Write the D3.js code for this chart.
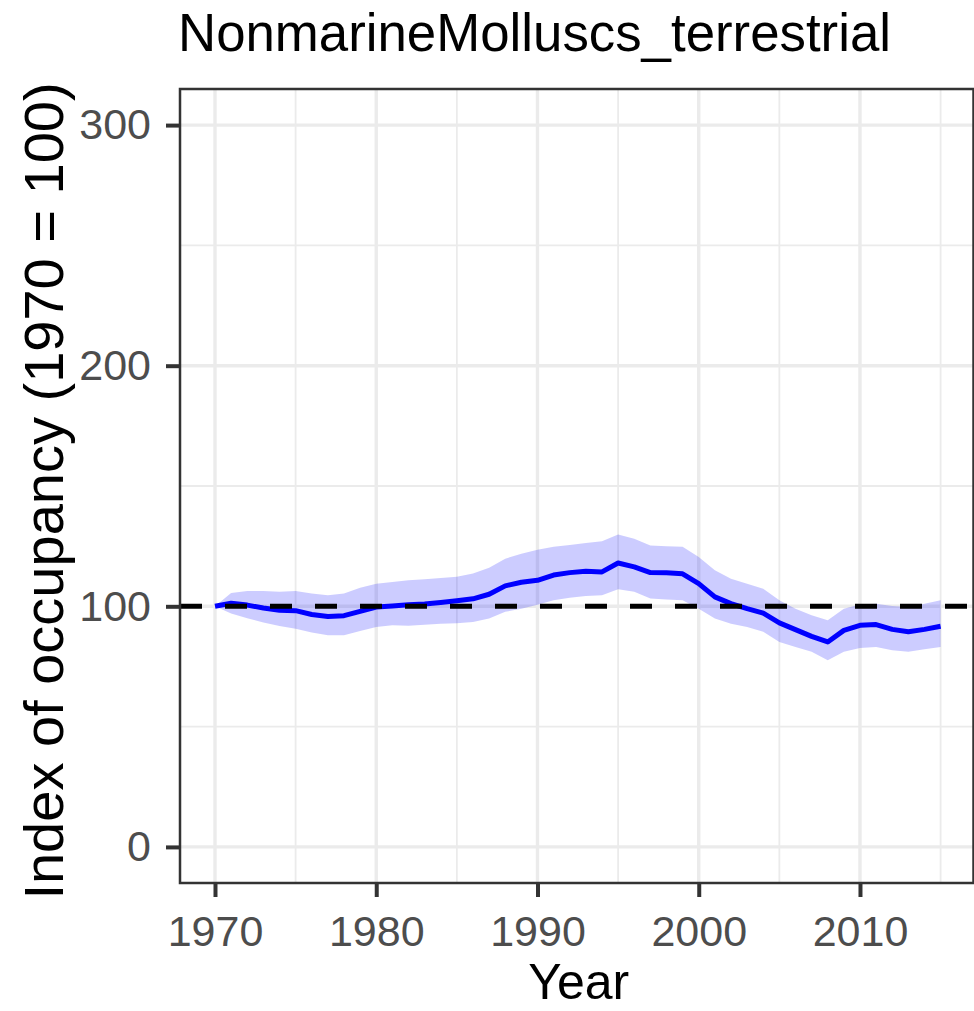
<!DOCTYPE html>
<html>
<head>
<meta charset="utf-8">
<script src="https://cdn.jsdelivr.net/npm/d3@7"></script>
<style>
  html, body { margin: 0; padding: 0; background: #ffffff; }
  svg { display: block; font-family: "Liberation Sans", Arial, Helvetica, sans-serif; }
</style>
</head>
<body>
<svg id="chart" width="974" height="1011"></svg>
<script>
const title = "NonmarineMolluscs_terrestrial";
const xTitle = "Year";
const yTitle = "Index of occupancy (1970 = 100)";

const years = d3.range(1970, 2016);
const index = [100, 101.3, 100.5, 99.3, 98.4, 98.2, 96.6, 95.8, 96.1, 97.9,
  99.7, 100.1, 100.6, 101.0, 101.6, 102.3, 103.1, 105.0, 108.5, 110.0,
  110.8, 113.0, 114.0, 114.6, 114.3, 118.0, 116.4, 114.0, 113.9, 113.5,
  109.4, 103.9, 101.1, 99.0, 97.2, 93.1, 90.3, 87.5, 85.2, 90.0,
  92.1, 92.4, 90.4, 89.4, 90.4, 91.7];
const upper = [100, 105.5, 106.4, 106.4, 106.0, 106.4, 105.3, 104.6, 105.3, 107.7,
  109.4, 110.1, 110.8, 111.2, 111.8, 112.3, 113.6, 116.0, 119.8, 121.8,
  123.5, 124.8, 125.5, 126.3, 127.0, 129.8, 128.1, 125.3, 125.0, 124.7,
  120.5, 115.0, 111.5, 109.4, 107.3, 102.5, 99.0, 96.3, 94.2, 99.0,
  100.7, 101.1, 100.1, 99.7, 101.1, 102.5];
const lower = [100, 97.0, 95.0, 93.3, 91.8, 90.7, 89.1, 88.0, 88.0, 89.7,
  91.4, 92.1, 91.9, 92.3, 92.8, 93.0, 93.5, 94.9, 97.7, 99.0,
  100.6, 102.5, 103.6, 104.3, 104.6, 107.1, 106.0, 103.2, 102.8, 102.5,
  99.0, 94.9, 92.8, 91.4, 89.4, 85.2, 83.1, 81.1, 77.6, 81.1,
  82.7, 83.1, 81.7, 81.1, 82.1, 83.1];
const baseline = 100;

const xMajor = [1970, 1980, 1990, 2000, 2010];
const xMinor = [1975, 1985, 1995, 2005, 2015];
const yMajor = [0, 100, 200, 300];
const yMinor = [50, 150, 250];

const data = years.map((yr, i) => ({ year: yr, v: index[i], hi: upper[i], lo: lower[i] }));

const L = 180, R = 973.5, T = 89, B = 883;
const x = d3.scaleLinear().domain([1967.83, 2017.04]).range([L, R]);
const y = d3.scaleLinear().domain([-15, 315]).range([B, T]);

const svg = d3.select("#chart");

svg.append("defs").append("clipPath").attr("id", "panel")
  .append("rect").attr("x", L).attr("y", T).attr("width", R - L).attr("height", B - T);

// grid
const grid = svg.append("g");
grid.selectAll(".xmin").data(xMinor).join("line")
  .attr("x1", d => x(d)).attr("x2", d => x(d)).attr("y1", T).attr("y2", B)
  .attr("stroke", "#EBEBEB").attr("stroke-width", 1.8);
grid.selectAll(".ymin").data(yMinor).join("line")
  .attr("y1", d => y(d)).attr("y2", d => y(d)).attr("x1", L).attr("x2", R)
  .attr("stroke", "#EBEBEB").attr("stroke-width", 1.8);
grid.selectAll(".xmaj").data(xMajor).join("line")
  .attr("x1", d => x(d)).attr("x2", d => x(d)).attr("y1", T).attr("y2", B)
  .attr("stroke", "#EBEBEB").attr("stroke-width", 3.4);
grid.selectAll(".ymaj").data(yMajor).join("line")
  .attr("y1", d => y(d)).attr("y2", d => y(d)).attr("x1", L).attr("x2", R)
  .attr("stroke", "#EBEBEB").attr("stroke-width", 3.4);

const plot = svg.append("g").attr("clip-path", "url(#panel)");

// ribbon
plot.append("path").datum(data)
  .attr("d", d3.area().x(d => x(d.year)).y0(d => y(d.lo)).y1(d => y(d.hi)))
  .attr("fill", "#0000FF").attr("fill-opacity", 0.2);

// line
plot.append("path").datum(data)
  .attr("d", d3.line().x(d => x(d.year)).y(d => y(d.v)))
  .attr("fill", "none").attr("stroke", "#0000FF").attr("stroke-width", 5)
  .attr("stroke-linejoin", "round");

// baseline dashed
plot.append("line")
  .attr("x1", L).attr("x2", R).attr("y1", y(baseline)).attr("y2", y(baseline))
  .attr("stroke", "#000000").attr("stroke-width", 5)
  .attr("stroke-dasharray", "22,23");

// panel border
svg.append("rect").attr("x", L).attr("y", T).attr("width", R - L).attr("height", B - T)
  .attr("fill", "none").attr("stroke", "#333333").attr("stroke-width", 2.5);

// axes
const xAxis = d3.axisBottom(x).tickValues(xMajor).tickFormat(d3.format("d"))
  .tickSize(14).tickPadding(18);
const gx = svg.append("g").attr("transform", `translate(0,${B})`).call(xAxis);
gx.select(".domain").remove();
gx.selectAll(".tick line").attr("stroke", "#333333").attr("stroke-width", 4);
gx.selectAll(".tick text").attr("fill", "#4D4D4D").attr("font-size", 43)
  .attr("font-family", "Liberation Sans, Arial, sans-serif");

const yAxis = d3.axisLeft(y).tickValues(yMajor).tickFormat(d3.format("d"))
  .tickSize(14).tickPadding(15);
const gy = svg.append("g").attr("transform", `translate(${L},0)`).call(yAxis);
gy.select(".domain").remove();
gy.selectAll(".tick line").attr("stroke", "#333333").attr("stroke-width", 4);
gy.selectAll(".tick text").attr("fill", "#4D4D4D").attr("font-size", 43)
  .attr("font-family", "Liberation Sans, Arial, sans-serif");

// titles
svg.append("text").attr("x", L - 2).attr("y", 51)
  .attr("font-size", 52.8).attr("fill", "#000").text(title);

svg.append("text").attr("x", (L + R) / 2 + 2).attr("y", 999)
  .attr("text-anchor", "middle").attr("font-size", 50).attr("fill", "#000").text(xTitle);

svg.append("text")
  .attr("transform", `translate(63,${(T + B) / 2 + 5}) rotate(-90)`)
  .attr("text-anchor", "middle").attr("font-size", 56).attr("fill", "#000").text(yTitle);
</script>
</body>
</html>
